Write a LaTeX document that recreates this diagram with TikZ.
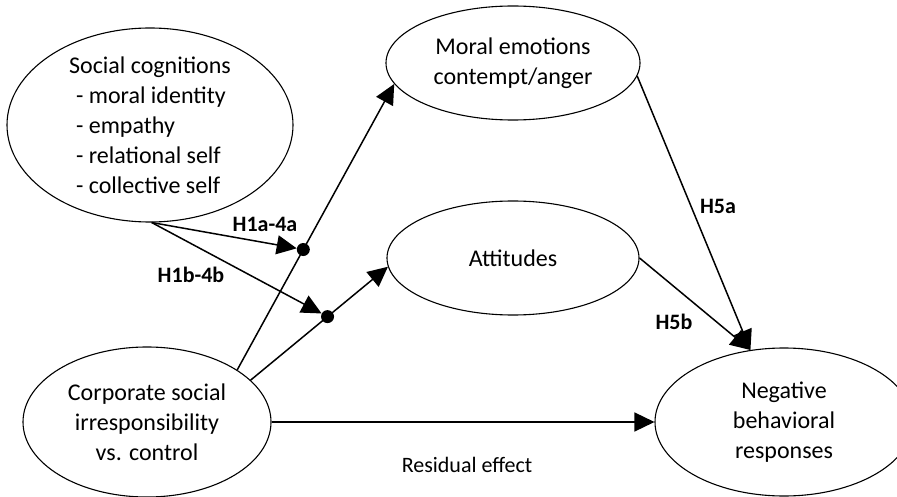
\documentclass[tikz,border=0pt]{standalone}
\usepackage{fontspec}
\setmainfont{Carlito}
\usetikzlibrary{shapes.geometric,arrows.meta,calc}

\tikzset{
	construct/.style={draw, ellipse, line width=1.1pt, inner sep=0pt, align=center, font=\fontsize{24}{30}\selectfont},
	link/.style={line width=1.5pt, -{Triangle[length=20pt,width=19pt]}},
	hyp/.style={font=\bfseries\fontsize{22}{26}\selectfont},
	junction/.style={circle, fill, inner sep=0pt, minimum size=13pt}
}

\begin{document}
\begin{tikzpicture}[x=1pt,y=-1pt]
		\clip (0,0) rectangle (897,497);
		\node[construct, align=left, inner ysep=-9pt, minimum width=286pt, minimum height=194pt] (cog) at (150,125)
			{Social cognitions\\\hspace*{7pt}- moral identity\\\hspace*{7pt}- empathy\\\hspace*{7pt}- relational self\\\hspace*{7pt}- collective self};
		\node[construct, minimum width=254pt, minimum height=114pt] (emo) at (513,63) {Moral emotions\\contempt/anger};
		\node[construct, minimum width=252pt, minimum height=114pt] (att) at (513,258) {Attitudes};
		\node[construct, minimum width=248pt, minimum height=150pt] (csi) at (147,422) {Corporate social\\irresponsibility\\vs. control};
		\node[construct, minimum width=258pt, minimum height=148pt] (neg) at (784,422) {Negative\\behavioral\\responses};

		\draw[link] (csi.30) -- (emo.190);
		\draw[link] (csi.22) -- (att.184);
		\node[junction] (d1) at ($(csi.30)!0.421!(emo.190)$) {};
		\node[junction] (d2) at ($(csi.22)!0.56!(att.184)$) {};
		\draw[link] (cog.-89) -- (d1);
		\draw[link] (cog.-89) -- (d2);

		\draw[link] (emo.-6) -- (neg.115);
		\draw[link] (att.east) -- (neg.115);
		\draw[link] (csi.east) -- (neg.west);

		\node[hyp] (h1a) at (265,224) {H1a-4a};
		\node[hyp] (h1b) at (191,275) {H1b-4b};
		\node[hyp] (h5a) at (718,206) {H5a};
		\node[hyp] (h5b) at (674,322) {H5b};
		\node[font=\fontsize{22}{26}\selectfont] (res) at (467,465) {Residual effect};
	\end{tikzpicture}
\end{document}
